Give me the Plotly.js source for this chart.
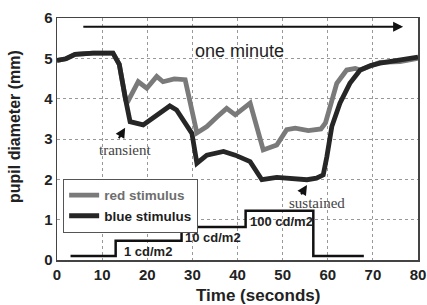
<!DOCTYPE html>
<html><head><meta charset="utf-8">
<script src="https://cdn.plot.ly/plotly-3.0.1.min.js"></script>
<style>html,body{margin:0;padding:0;background:#fff;}#plot{width:427px;height:305px;}</style>
</head><body><div id="plot"></div>
<script>
var redT = [0, 2, 4, 8, 12.4, 13.8, 15.2, 15.8, 18, 19.9, 22.1, 23.5, 26, 28.4, 31, 33.2, 35.5, 37.6, 39.5, 42.8, 45.7, 48.7, 50.9, 52.8, 55.7, 58.5, 59.5, 60.5, 62, 64.2, 66.1, 67.2, 69.5, 71.6, 76, 80];
var redY = [4.95, 4.99, 5.1, 5.13, 5.13, 4.85, 3.98, 3.95, 4.42, 4.26, 4.55, 4.42, 4.49, 4.47, 3.15, 3.31, 3.55, 3.76, 3.6, 3.89, 2.73, 2.85, 3.23, 3.27, 3.21, 3.25, 3.4, 3.8, 4.38, 4.71, 4.75, 4.71, 4.82, 4.9, 4.92, 5.0];
var blueT = [0, 2, 4, 8, 12.4, 13.8, 15.2, 16.2, 19.1, 22.1, 25, 26.5, 29.9, 31, 33.2, 36.9, 39.5, 42.8, 45.4, 48.7, 52.4, 55.4, 57.5, 59, 59.8, 60.9, 62.7, 64.9, 67.2, 69.5, 71.6, 76, 80];
var blueY = [4.95, 4.99, 5.1, 5.13, 5.13, 4.85, 3.98, 3.43, 3.35, 3.6, 3.82, 3.72, 3.14, 2.4, 2.6, 2.69, 2.6, 2.44, 1.99, 2.05, 2.03, 1.99, 2.03, 2.11, 2.56, 3.31, 3.89, 4.38, 4.71, 4.82, 4.88, 4.95, 5.03];
var stimT = [3, 13, 27.6, 41.8, 56.8, 68];
var stimY = [0.1, 0.48, 0.82, 1.22, 0.1, 0.1];
var stimLabels = ["1 cd/m2", "10 cd/m2", "100 cd/m2"];
var stimLabelT = [14.4, 28, 42.3];
var stimLabelY = [0.2, 0.55, 0.95];
var xTicks = [0, 10, 20, 30, 40, 50, 60, 70, 80];
var yTicks = [0, 1, 2, 3, 4, 5, 6];

var traces = [
  {x: redT, y: redY, type: 'scatter', mode: 'lines', name: '<b><span style="color:#6e6e6e">red stimulus</span></b>',
   line: {color: '#7a7a7a', width: 4.8}},
  {x: blueT, y: blueY, type: 'scatter', mode: 'lines', name: '<b><span style="color:#1e1e1e">blue stimulus</span></b>',
   line: {color: '#262626', width: 4.8}},
  {x: stimT, y: stimY, type: 'scatter', mode: 'lines', showlegend: false,
   line: {color: '#111', width: 2.5, shape: 'hv'}}
];

var ann = [];
for (var i = 0; i < stimLabels.length; i++) {
  ann.push({x: stimLabelT[i], y: stimLabelY[i], xref: 'x', yref: 'y', text: '<b>' + stimLabels[i] + '</b>',
    showarrow: false, xanchor: 'left', yanchor: 'middle',
    font: {family: 'Liberation Sans, Arial', size: 13, color: '#222'}});
}
ann.push({x: 40.5, y: 5.17, xref: 'x', yref: 'y', text: 'one minute', showarrow: false,
  font: {family: 'Liberation Sans, Arial', size: 18, color: '#222'}});
ann.push({x: 76.7, y: 5.78, ax: 5.5, ay: 5.78, xref: 'x', yref: 'y', axref: 'x', ayref: 'y', text: '',
  showarrow: true, arrowhead: 2, arrowsize: 1, arrowwidth: 2, arrowcolor: '#111'});
ann.push({x: 15.1, y: 2.73, xref: 'x', yref: 'y', text: 'transient', showarrow: false,
  font: {family: 'Liberation Serif, Times New Roman', size: 15, color: '#444'}});
ann.push({x: 15.1, y: 3.28, ax: 13.5, ay: 2.98, xref: 'x', yref: 'y', axref: 'x', ayref: 'y', text: '',
  showarrow: true, arrowhead: 2, arrowsize: 1, arrowwidth: 2, arrowcolor: '#111'});
ann.push({x: 57.7, y: 1.41, xref: 'x', yref: 'y', text: 'sustained', showarrow: false,
  font: {family: 'Liberation Serif, Times New Roman', size: 15, color: '#444'}});
ann.push({x: 55.4, y: 1.86, ax: 53.9, ay: 1.59, xref: 'x', yref: 'y', axref: 'x', ayref: 'y', text: '',
  showarrow: true, arrowhead: 2, arrowsize: 1, arrowwidth: 2, arrowcolor: '#111'});
ann.push({x: 0.557, y: -0.145, xref: 'paper', yref: 'paper', text: '<b>Time (seconds)</b>', showarrow: false,
  yanchor: 'middle', font: {family: 'Liberation Sans, Arial', size: 17, color: '#222'}});
ann.push({x: -0.116, y: 0.55, xref: 'paper', yref: 'paper', text: '<b>pupil diameter (mm)</b>', showarrow: false,
  textangle: -90, xanchor: 'center', yanchor: 'middle', font: {family: 'Liberation Sans, Arial', size: 16, color: '#222'}});

var layout = {
  width: 427, height: 305,
  margin: {l: 57, r: 9, t: 18, b: 45},
  paper_bgcolor: '#fff', plot_bgcolor: '#fff',
  showlegend: true,
  legend: {x: 0.017, y: 0.335, xanchor: 'left', yanchor: 'top', bgcolor: '#fff',
    bordercolor: '#555', borderwidth: 1, itemwidth: 30, tracegroupgap: 0,
    font: {family: 'Liberation Sans, Arial', size: 13.5, color: '#555'}},
  xaxis: {range: [0, 80], tickvals: xTicks, ticks: '', showgrid: true, gridcolor: '#999', griddash: 'dot', gridwidth: 1,
    showline: true, linecolor: '#444', linewidth: 1.5, mirror: true, zeroline: false,
    tickfont: {family: 'Liberation Sans, Arial', size: 15, color: '#222', weight: 'bold'}},
  yaxis: {range: [0, 6], tickvals: yTicks, ticks: '', showgrid: true, gridcolor: '#999', griddash: 'dot', gridwidth: 1,
    showline: true, linecolor: '#444', linewidth: 1.5, mirror: true, zeroline: false,
    tickfont: {family: 'Liberation Sans, Arial', size: 15, color: '#222', weight: 'bold'}},
  annotations: ann
};
Plotly.newPlot('plot', traces, layout, {displayModeBar: false, staticPlot: true});
</script></body></html>
